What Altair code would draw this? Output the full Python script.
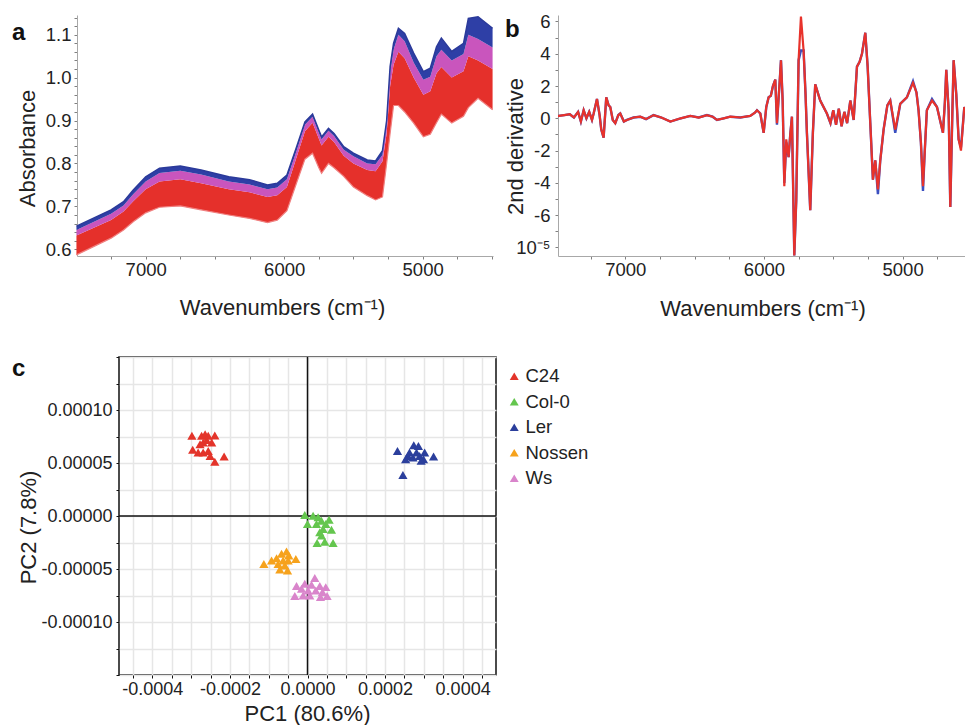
import altair as alt
import pandas as pd

F = "Liberation Sans"
TXT = "#222222"

# ---------------- Panel a: NIR absorbance spectra (band envelopes) ----------------
WN_A = [7500, 7250, 7160, 7090, 7000, 6900, 6750, 6600, 6400, 6250, 6120, 6050, 5980, 5910,
        5850, 5795, 5750, 5730, 5680, 5640, 5570, 5500, 5400, 5340, 5290, 5260, 5235, 5210,
        5175, 5130, 5065, 4995, 4945, 4900, 4865, 4790, 4705, 4670, 4600, 4495]
A_TOP = [0.654, 0.692, 0.711, 0.738, 0.769, 0.789, 0.794, 0.785, 0.769, 0.762, 0.750, 0.754, 0.773, 0.839,
         0.897, 0.915, 0.878, 0.862, 0.882, 0.870, 0.839, 0.824, 0.808, 0.806, 0.830, 0.900, 1.026, 1.080,
         1.115, 1.103, 1.057, 1.014, 1.022, 1.072, 1.092, 1.061, 1.080, 1.138, 1.142, 1.115]
A_BLUE_LOW = [0.645, 0.683, 0.702, 0.728, 0.758, 0.778, 0.783, 0.774, 0.758, 0.751, 0.740, 0.744, 0.763, 0.830,
              0.890, 0.909, 0.872, 0.856, 0.876, 0.864, 0.832, 0.817, 0.800, 0.798, 0.820, 0.890, 1.010, 1.065,
              1.100, 1.085, 1.035, 0.995, 1.002, 1.050, 1.065, 1.040, 1.055, 1.100, 1.090, 1.070]
A_MAG_LOW = [0.632, 0.668, 0.688, 0.712, 0.740, 0.758, 0.763, 0.754, 0.740, 0.733, 0.722, 0.726, 0.745, 0.815,
             0.875, 0.895, 0.858, 0.842, 0.862, 0.850, 0.818, 0.800, 0.785, 0.782, 0.805, 0.870, 0.980, 1.030,
             1.060, 1.045, 1.000, 0.960, 0.968, 1.010, 1.025, 1.000, 1.015, 1.050, 1.040, 1.020]
A_BOTTOM = [0.587, 0.626, 0.645, 0.664, 0.685, 0.698, 0.701, 0.692, 0.680, 0.672, 0.662, 0.668, 0.690, 0.755,
            0.810, 0.824, 0.790, 0.777, 0.800, 0.790, 0.770, 0.745, 0.725, 0.715, 0.722, 0.800, 0.870, 0.935,
            0.935, 0.920, 0.894, 0.862, 0.868, 0.895, 0.915, 0.894, 0.910, 0.930, 0.952, 0.925]
A_XTICKS = [4500, 4750, 5000, 5250, 5500, 5750, 6000, 6250, 6500, 6750, 7000, 7250]
A_YTICKS = [0.60, 0.62, 0.64, 0.66, 0.68, 0.70, 0.72, 0.74, 0.76, 0.78, 0.80, 0.82, 0.84, 0.86,
            0.88, 0.90, 0.92, 0.94, 0.96, 0.98, 1.00, 1.02, 1.04, 1.06, 1.08, 1.10, 1.12, 1.14]

# ---------------- Panel b: second derivative spectra ----------------
WN_B = [7500, 7480, 7440, 7400, 7370, 7340, 7320, 7300, 7280, 7260, 7240, 7228, 7204, 7185, 7173,
        7156, 7137, 7120, 7108, 7090, 7072, 7050, 7036, 7010, 6988, 6940, 6892, 6850, 6796, 6740,
        6675, 6600, 6531, 6470, 6411, 6370, 6339, 6290, 6243, 6170, 6099, 6065, 6050, 6026, 6002,
        5983, 5966, 5950, 5935, 5918, 5906, 5887, 5877, 5865, 5853, 5839, 5822, 5810, 5798, 5781,
        5767, 5750, 5733, 5714, 5700, 5690, 5666, 5647, 5630, 5594, 5546, 5520, 5500, 5480, 5460,
        5440, 5420, 5400, 5377, 5353, 5329, 5310, 5293, 5269, 5252, 5233, 5214, 5197, 5178, 5161,
        5137, 5110, 5089, 5053, 5017, 4969, 4925, 4900, 4885, 4868, 4853, 4840, 4825, 4788, 4752,
        4709, 4695, 4685, 4668, 4656, 4640, 4632, 4613, 4596, 4579, 4555, 4536]
B_RED = [0.1, 0.15, 0.2, 0.25, 0.05, 0.4, -0.2, 0.5, 0.0, 0.4, -0.1, 0.3, 1.2, 0.2, -0.7,
         -1.2, 1.3, 0.8, 0.7, -0.1, -0.3, 0.2, 0.3, -0.2, -0.1, 0.05, 0.1, -0.05, 0.2, 0.05,
         -0.2, 0.0, 0.15, 0.05, 0.2, 0.1, -0.1, 0.0, 0.1, 0.05, 0.15, 0.35, 0.5, 0.3, -0.9,
         0.7, 1.3, 1.4, 2.0, 2.4, -0.3, 2.2, 3.6, 1.1, -4.2, -1.3, -2.4, -1.0, 0.1, -8.5,
         -5.1, 3.6, 6.3, 4.2, 1.5, -0.9, -5.7, -0.9, 2.1, 1.1, 0.3, -0.3, 0.5, -0.4, 0.6,
         -0.5, 0.4, -0.3, 1.1, -0.1, 3.2, 3.5, 4.0, 5.3, 3.2, -0.3, -3.8, -2.6, -4.4, -2.6,
         -0.7, 0.8, 1.1, -0.7, 0.9, 1.3, 2.2, 1.6, 0.5, -1.5, -4.2, -2.0, 0.5, 1.1, 0.7,
         -0.9, 1.0, 3.0, 0.5, -5.5, 0.8, 3.6, 1.5, -1.3, -2.0, 0.7, 0.1]
B_BLUE = [0.1, 0.15, 0.2, 0.25, 0.05, 0.4, -0.2, 0.5, 0.0, 0.4, -0.1, 0.3, 1.2, 0.2, -0.7,
          -1.2, 1.3, 0.8, 0.7, -0.1, -0.3, 0.2, 0.3, -0.2, -0.1, 0.05, 0.1, -0.05, 0.2, 0.05,
          -0.2, 0.0, 0.15, 0.05, 0.2, 0.1, -0.1, 0.0, 0.1, 0.05, 0.15, 0.35, 0.5, 0.3, -0.9,
          0.7, 1.3, 1.4, 2.0, 2.4, -0.4, 2.2, 3.6, 1.1, -4.0, -1.5, -2.4, -1.0, 0.1, -8.5,
          -5.1, 3.6, 4.2, 4.2, 1.5, -0.9, -5.7, -0.9, 2.1, 1.1, 0.3, -0.3, 0.5, -0.4, 0.6,
          -0.5, 0.4, -0.3, 1.1, -0.1, 3.2, 3.5, 4.0, 5.3, 3.2, -0.3, -3.8, -2.6, -4.7, -2.6,
          -0.7, 0.8, 1.1, -0.9, 0.9, 1.3, 2.3, 1.6, 0.5, -1.5, -4.5, -2.0, 0.5, 1.2, 0.7,
          -0.9, 1.0, 3.0, 0.5, -5.5, 0.8, 3.6, 1.5, -1.3, -1.8, 0.7, 0.1]
B_XTICKS = [4750, 5000, 5250, 5500, 5750, 6000, 6250, 6500, 6750, 7000, 7250]
B_YTICKS = [-8, -7, -6, -5, -4, -3, -2, -1, 0, 1, 2, 3, 4, 5, 6]

# ---------------- Panel c: PCA scores ----------------
LINES = ["C24", "Col-0", "Ler", "Nossen", "Ws"]
COLORS = ["#e3342a", "#64c64e", "#2b3f9c", "#f6a21c", "#d985cb"]
C24_X = [-0.000298, -0.000273, -0.000264, -0.000256, -0.000239, -0.000269, -0.000247, -0.000296,
         -0.000282, -0.000269, -0.000256, -0.000251, -0.000239, -0.000215, -0.000277, -0.000260]
C24_Y = [0.0000756, 0.0000756, 0.0000771, 0.0000756, 0.0000760, 0.0000693, 0.0000693, 0.0000624,
         0.0000599, 0.0000599, 0.0000614, 0.0000567, 0.0000511, 0.0000562, 0.0000677, 0.0000718]
COL0_X = [-0.000007, 0.0, 0.0000144, 0.0000273, 0.000036, 0.0000556, 0.0000232, 0.0000402,
          0.0000618, 0.0000317, 0.000036, 0.0000247, 0.0000445, 0.0000659, 0.0000471]
COL0_Y = [0.0000009, -0.0000075, 0.0000003, -0.0000012, -0.0000044, -0.0000035, -0.0000075, -0.0000122,
          -0.0000129, -0.0000153, -0.0000185, -0.0000254, -0.0000242, -0.0000254, -0.0000075]
LER_X = [0.000232, 0.000274, 0.000286, 0.000259, 0.000272, 0.000289, 0.000299, 0.000325,
         0.000246, 0.000281, 0.000263, 0.000293, 0.000302, 0.000253]
LER_Y = [0.0000614, 0.0000668, 0.0000661, 0.0000567, 0.0000552, 0.0000567, 0.0000536, 0.0000562,
         0.0000386, 0.0000599, 0.0000599, 0.0000520, 0.0000599, 0.0000536]
NOSSEN_X = [-0.0001125, -0.0000927, -0.0000798, -0.0000669, -0.0000541, -0.0000481, -0.0000628,
            -0.0000301, -0.0000499, -0.0000713, -0.0000515, -0.0000757, -0.0000584]
NOSSEN_Y = [-0.0000452, -0.0000420, -0.0000398, -0.0000357, -0.0000336, -0.0000373, -0.0000420,
            -0.0000405, -0.0000420, -0.0000505, -0.0000515, -0.0000452, -0.0000467]
WS_X = [0.0000188, -0.0000283, -0.000007, 0.0000103, 0.0000317, 0.0000471, -0.0000327, -0.0000113,
        0.0000059, 0.0000214, 0.0000335, 0.0000505, -0.0000154, 0.0000015, 0.0000386]
WS_Y = [-0.0000586, -0.0000661, -0.0000640, -0.0000649, -0.0000661, -0.0000671, -0.0000755, -0.0000750,
        -0.0000750, -0.0000703, -0.0000765, -0.0000755, -0.0000687, -0.0000703, -0.0000718]
C_XVALS = [-0.00045, -0.0004, -0.00035, -0.0003, -0.00025, -0.0002, -0.00015, -0.0001, -0.00005, 0.0,
           0.00005, 0.0001, 0.00015, 0.0002, 0.00025, 0.0003, 0.00035, 0.0004, 0.00045]
C_YVALS = [-0.00015, -0.000125, -0.0001, -0.000075, -0.00005, -0.000025, 0.0,
           0.000025, 0.00005, 0.000075, 0.0001, 0.000125, 0.00015]

# ---------------- tables ----------------
df_a = pd.DataFrame({"wn": WN_A, "top": A_TOP, "b1": A_BLUE_LOW, "b2": A_MAG_LOW, "bot": A_BOTTOM})
df_b = pd.DataFrame({"wn": WN_B, "red": B_RED, "blue": B_BLUE})
rows = []
for name, xs, ys in [("C24", C24_X, C24_Y), ("Col-0", COL0_X, COL0_Y), ("Ler", LER_X, LER_Y),
                     ("Nossen", NOSSEN_X, NOSSEN_Y), ("Ws", WS_X, WS_Y)]:
    for xv, yv in zip(xs, ys):
        rows.append({"line": name, "pc1": xv, "pc2": yv})
df_c = pd.DataFrame(rows)
df_zero = pd.DataFrame({"z": [0.0]})

NOVIEW = alt.ViewBackground(stroke=None)

def panel_label(t, x, y):
    return alt.Chart(pd.DataFrame({"t": [t]})).mark_text(
        font=F, fontSize=24, fontWeight="bold", align="left", baseline="alphabetic", color="#111"
    ).encode(text="t:N", x=alt.value(x), y=alt.value(y))

def anchor(x, y, y2):
    # invisible white rule that pins the layout extent
    return alt.Chart(df_zero).mark_rule(color="white", strokeWidth=1).encode(
        x=alt.value(x), y=alt.value(y), y2=alt.value(y2))

axis_common = dict(grid=False, labelFont=F, labelColor=TXT, labelFontSize=18.5, labelOverlap=False,
                   labelFlush=False, labelBound=False, titleFont=F, titleFontSize=22,
                   titleFontWeight="normal", titleColor=TXT, titleAlign="center",
                   titleBaseline="middle", domainColor="#a8a8a8", tickColor="#808080", tickSize=3)

# ---- panel a ----
AX_A_X = alt.Axis(values=A_XTICKS, labelPadding=1,
                  labelExpr="datum.value % 1000 == 0 ? format(datum.value, 'd') : ''",
                  titleX=205, titleY=51, **axis_common)
AX_A_Y = alt.Axis(values=A_YTICKS, labelPadding=3,
                  labelExpr="abs(datum.value*10 - round(datum.value*10)) < 0.01 ? format(datum.value, '.1f') : ''",
                  titleX=-49.5, titleY=133, **axis_common)
SC_A_X = alt.Scale(domain=[4492, 7496], reverse=True, nice=False, zero=False)
SC_A_Y = alt.Scale(domain=[0.5844, 1.1459], nice=False, zero=False)

def xa():
    return alt.X("wn:Q", title="Wavenumbers (cm⁻¹)", scale=SC_A_X, axis=AX_A_X)

def ya(f):
    return alt.Y(f, type="quantitative", title="Absorbance", scale=SC_A_Y, axis=AX_A_Y)

base_a = alt.Chart(df_a)
red_band = base_a.mark_area(color="#e5302b", opacity=1).encode(x=xa(), y=ya("bot"), y2="b2:Q")
mag_band = base_a.mark_area(color="#c955bd", opacity=1).encode(x=xa(), y=ya("b2"), y2="b1:Q")
blue_band = base_a.mark_area(color="#2e3fa6", opacity=1).encode(x=xa(), y=ya("b1"), y2="top:Q")
top_line = base_a.mark_line(color="#2b3a9a", strokeWidth=1.5).encode(x=xa(), y=ya("top"))
bot_line = base_a.mark_line(color="#f08080", strokeWidth=1.2).encode(x=xa(), y=ya("bot"))
panel_a = alt.layer(anchor(-76.5, -14.5, 314.5), red_band, mag_band, blue_band, top_line, bot_line,
                    panel_label("a", -65, 25)).properties(width=416, height=241, view=NOVIEW)

# ---- panel b ----
AX_B_X = alt.Axis(values=B_XTICKS, labelPadding=1,
                  labelExpr="datum.value % 1000 == 0 ? format(datum.value, 'd') : ''",
                  titleX=204.5, titleY=52, **axis_common)
AX_B_Y = alt.Axis(values=B_YTICKS, labelPadding=5,
                  labelExpr="datum.value == -8 ? '10⁻⁵' : (datum.value % 2 == 0 ? replace(format(datum.value, 'd'), '−', '-') : '')",
                  titleX=-43, titleY=131, **axis_common)
SC_B_X = alt.Scale(domain=[4550, 7485], reverse=True, nice=False, zero=False)
SC_B_Y = alt.Scale(domain=[-8.53, 6.40], nice=False, zero=False)

def xb():
    return alt.X("wn:Q", title="Wavenumbers (cm⁻¹)", scale=SC_B_X, axis=AX_B_X)

def yb(f):
    return alt.Y(f, type="quantitative", title="2nd derivative", scale=SC_B_Y, axis=AX_B_Y)

base_b = alt.Chart(df_b)
blue_line = base_b.mark_line(color="#3a4fc0", strokeWidth=2.4, clip=True).encode(x=xb(), y=yb("blue"))
red_line = base_b.mark_line(color="#e8322b", strokeWidth=2.2, clip=True).encode(x=xb(), y=yb("red"))
panel_b = alt.layer(blue_line, red_line, panel_label("b", -53, 22)).properties(
    width=407, height=241, view=NOVIEW)

# ---- panel c ----
axis_c = dict(labelFont=F, labelColor=TXT, labelFontSize=18, labelOverlap=False, labelFlush=False,
              labelBound=False, titleFont=F, titleFontSize=22, titleFontWeight="normal", titleColor=TXT,
              titleAlign="center", titleBaseline="middle", domain=False, grid=True,
              gridColor="#e6e6e6", gridWidth=1.5, tickColor="#111", tickSize=3)
AX_C_X = alt.Axis(values=C_XVALS, labelPadding=2,
                  labelExpr="abs(datum.value/0.0002 - round(datum.value/0.0002)) < 0.01 ? replace(format(datum.value, '.4f'), '−', '-') : ''",
                  titleX=188, titleY=38, **axis_c)
AX_C_Y = alt.Axis(values=C_YVALS, labelPadding=4,
                  labelExpr="(abs(datum.value/0.00005 - round(datum.value/0.00005)) < 0.01 && abs(datum.value) < 0.00012) ? replace(format(datum.value, '.5f'), '−', '-') : ''",
                  titleX=-91, titleY=170, **axis_c)
SC_C_X = alt.Scale(domain=[-0.000486, 0.000486], nice=False, zero=False)
SC_C_Y = alt.Scale(domain=[-0.00015, 0.00015], nice=False, zero=False)

def xc(f):
    return alt.X(f, type="quantitative", title="PC1 (80.6%)", scale=SC_C_X, axis=AX_C_X)

def yc(f):
    return alt.Y(f, type="quantitative", title="PC2 (7.8%)", scale=SC_C_Y, axis=AX_C_Y)

pts = alt.Chart(df_c).mark_point(shape="triangle-up", filled=True, size=85, opacity=1).encode(
    x=xc("pc1"), y=yc("pc2"),
    color=alt.Color("line:N", scale=alt.Scale(domain=LINES, range=COLORS),
                    legend=alt.Legend(title=None, orient="none", legendX=428, legendY=352,
                                      symbolType="triangle-up", symbolSize=80, symbolStrokeWidth=0,
                                      symbolOpacity=1, labelFont=F, labelFontSize=18.5, labelColor=TXT,
                                      rowPadding=6.5, padding=0, labelOffset=2)))
vzero = alt.Chart(df_zero).mark_rule(color="#111", strokeWidth=1.5).encode(x=xc("z"))
hzero = alt.Chart(df_zero).mark_rule(color="#111", strokeWidth=1.5).encode(y=yc("z"))
panel_c = alt.layer(vzero, hzero, pts, panel_label("c", -107, 19)).properties(
    width=377, height=318, view=alt.ViewBackground(stroke="#111", strokeWidth=1.5))

spacer_c = anchor(0.5, -26.5, -20).properties(width=1, height=318, view=NOVIEW)

row1 = alt.hconcat(panel_a, panel_b, spacing=65, bounds="flush")
row2 = alt.hconcat(spacer_c, panel_c, spacing=41, bounds="flush")
chart = alt.concat(row1, row2, columns=1, spacing=0, bounds="full", align="each").properties(
    padding=0, background="white"
).configure_view(stroke=None).configure_axis(labelOverlap=False)

chart.save("out.html", embed_options={"renderer": "svg", "actions": False})
